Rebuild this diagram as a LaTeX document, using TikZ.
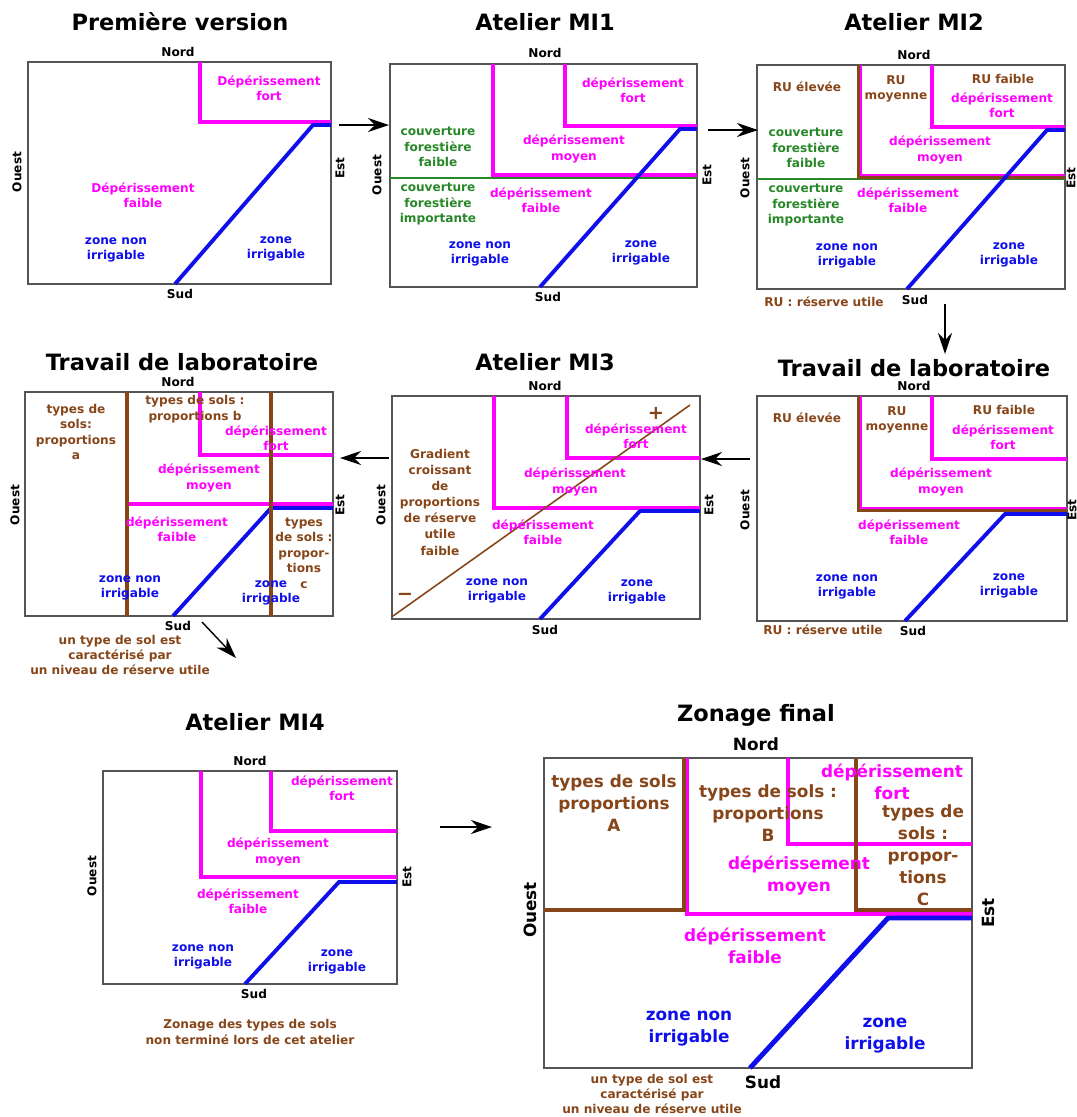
\documentclass[tikz,border=0pt]{standalone}
\usepackage{fontspec}
\setmainfont{DejaVu Sans}
\usetikzlibrary{arrows.meta}
\definecolor{depmag}{RGB}{255,0,255}
\definecolor{zonebleu}{RGB}{15,15,235}
\definecolor{foretvert}{RGB}{40,135,40}
\definecolor{solbrun}{RGB}{135,70,25}
\definecolor{gris}{RGB}{85,85,85}
\begin{document}
\begin{tikzpicture}[x=0.02cm, y=-0.02cm,
	cadre/.style={draw=gris, line width=1.1pt},
	lbl/.style={font=\fontsize{6.9}{8.8}\selectfont\bfseries, align=center, inner sep=0pt},
	grand/.style={font=\fontsize{9.6}{12.5}\selectfont\bfseries, align=center, inner sep=0pt},
	titre/.style={font=\fontsize{12.8}{15}\selectfont\bfseries, inner sep=0pt},
	lmag/.style={text=depmag}, lbleu/.style={text=zonebleu},
	lvert/.style={text=foretvert}, lbrun/.style={text=solbrun},
	trmag/.style={draw=depmag, line width=2.2pt},
	trbleu/.style={draw=zonebleu, line width=2.2pt},
	trvert/.style={draw=foretvert, line width=1.6pt},
	trbrun/.style={draw=solbrun, line width=2.2pt},
	fleche/.style={-{Stealth[length=0.42cm, width=0.28cm, inset=0.14cm]}, line width=0.8pt}]
	\path[use as bounding box, fill=white] (0,0) rectangle (1077,1117);
	%Premiere version
	\node[titre] (t1) at (180,22) {Première version};
	\draw[cadre] (28,62) rectangle (331,284);
	\node[lbl] (n1) at (178,52) {Nord};
	\node[lbl] (s1) at (180,294) {Sud};
	\node[lbl, rotate=90] (o1) at (17,172) {Ouest};
	\node[lbl, rotate=90] (e1) at (340,168) {Est};
	\draw[trmag] (200,62) -- (200,122) -- (331,122);
	\draw[trbleu] (175,284) -- (313,125) -- (331,125);
	\node[lbl, lmag] (d1a) at (269,88) {Dépérissement\\fort};
	\node[lbl, lmag] (d1b) at (143,195) {Dépérissement\\faible};
	\node[lbl, lbleu] (z1a) at (116,250) {zone non\\irrigable};
	\node[lbl, lbleu] (z1b) at (276,249) {zone\\irrigable};
	%Atelier MI1
	\node[titre] (t2) at (545,22) {Atelier MI1};
	\draw[cadre] (390,64) rectangle (697,287);
	\node[lbl] (n2) at (545,53) {Nord};
	\node[lbl] (s2) at (548,297) {Sud};
	\node[lbl, rotate=90] (o2) at (377,175) {Ouest};
	\node[lbl, rotate=90] (e2) at (707,175) {Est};
	\draw[trmag] (493,64) -- (493,175) -- (697,175);
	\draw[trmag] (565,64) -- (565,126) -- (697,126);
	\draw[trvert] (390,178) -- (697,178);
	\draw[trbleu] (540,287) -- (680,129) -- (697,129);
	\node[lbl, lvert] (c2a) at (438,147) {couverture\\forestière\\faible};
	\node[lbl, lvert] (c2b) at (438,204) {couverture\\forestière\\importante};
	\node[lbl, lmag] (d2a) at (633,90) {dépérissement\\fort};
	\node[lbl, lmag] (d2b) at (574,149) {dépérissement\\moyen};
	\node[lbl, lmag] (d2c) at (541,200) {dépérissement\\faible};
	\node[lbl, lbleu] (z2a) at (480,254) {zone non\\irrigable};
	\node[lbl, lbleu] (z2b) at (641,253) {zone\\irrigable};
	%Atelier MI2
	\node[titre] (t3) at (914,22) {Atelier MI2};
	\draw[cadre] (757,65) rectangle (1065,289);
	\node[lbl] (n3) at (914,55) {Nord};
	\node[lbl] (s3) at (915,300) {Sud};
	\node[lbl, rotate=90] (o3) at (745,178) {Ouest};
	\node[lbl, rotate=90] (e3) at (1071,178) {Est};
	\draw[trvert] (757,179) -- (1065,179);
	\draw[trbrun] (859,65) -- (859,177) -- (1065,177);
	\draw[draw=depmag, line width=1.4pt] (861,65) -- (861,175) -- (1065,175);
	\draw[trmag] (932,65) -- (932,127) -- (1065,127);
	\draw[trbleu] (907,289) -- (1047,130) -- (1065,130);
	\node[lbl, lbrun] (r3a) at (807,87) {RU élevée};
	\node[lbl, lbrun] (r3b) at (896,89) {RU\\moyenne};
	\node[lbl, lbrun] (r3c) at (1003,79) {RU faible};
	\node[lbl, lmag] (d3a) at (1002,105) {dépérissement\\fort};
	\node[lbl, lvert] (c3a) at (806,148) {couverture\\forestière\\faible};
	\node[lbl, lvert] (c3b) at (806,205) {couverture\\forestière\\importante};
	\node[lbl, lmag] (d3b) at (940,150) {dépérissement\\moyen};
	\node[lbl, lmag] (d3c) at (908,200) {dépérissement\\faible};
	\node[lbl, lbleu] (z3a) at (847,256) {zone non\\irrigable};
	\node[lbl, lbleu] (z3b) at (1009,255) {zone\\irrigable};
	\node[lbl, lbrun] (ru3) at (824,302) {RU : réserve utile};
	%Travail de laboratoire (droite)
	\node[titre] (t6) at (914,368) {Travail de laboratoire};
	\draw[cadre] (757,396) rectangle (1067,621);
	\node[lbl] (n6) at (914,386) {Nord};
	\node[lbl] (s6) at (913,631) {Sud};
	\node[lbl, rotate=90] (o6) at (745,510) {Ouest};
	\node[lbl, rotate=90] (e6) at (1072,510) {Est};
	\draw[trbrun] (859,396) -- (859,510) -- (1067,510);
	\draw[draw=depmag, line width=1.4pt] (861,396) -- (861,508) -- (1067,508);
	\draw[trmag] (932,396) -- (932,459) -- (1067,459);
	\draw[trbleu] (905,621) -- (1005,514) -- (1067,514);
	\node[lbl, lbrun] (r6a) at (807,418) {RU élevée};
	\node[lbl, lbrun] (r6b) at (897,420) {RU\\moyenne};
	\node[lbl, lbrun] (r6c) at (1004,410) {RU faible};
	\node[lbl, lmag] (d6a) at (1003,437) {dépérissement\\fort};
	\node[lbl, lmag] (d6b) at (941,482) {dépérissement\\moyen};
	\node[lbl, lmag] (d6c) at (909,532) {dépérissement\\faible};
	\node[lbl, lbleu] (z6a) at (847,587) {zone non\\irrigable};
	\node[lbl, lbleu] (z6b) at (1009,586) {zone\\irrigable};
	\node[lbl, lbrun] (ru6) at (823,630) {RU : réserve utile};
	%Atelier MI3
	\node[titre] (t5) at (545,362) {Atelier MI3};
	\draw[cadre] (392,396) rectangle (700,619);
	\node[lbl] (n5) at (545,386) {Nord};
	\node[lbl] (s5) at (545,630) {Sud};
	\node[lbl, rotate=90] (o5) at (381,505) {Ouest};
	\node[lbl, rotate=90] (e5) at (709,505) {Est};
	\draw[trmag] (494,396) -- (494,508) -- (700,508);
	\draw[trmag] (567,396) -- (567,458) -- (700,458);
	\draw[trbleu] (540,619) -- (640,511) -- (700,511);
	\draw[solbrun, line width=0.9pt] (393,616) -- (690,405);
	\node[lbl, lbrun, font=\fontsize{11}{11}\selectfont\bfseries] (plus5) at (656,413) {+};
	\node[lbl, lbrun, font=\fontsize{11}{11}\selectfont\bfseries] (moins5) at (405,597) {−};
	\node[lbl, lbrun, font=\fontsize{6.9}{9.2}\selectfont\bfseries] (g5) at (440,502) {Gradient\\croissant\\de\\proportions\\de réserve\\utile\\faible};
	\node[lbl, lmag] (d5a) at (636,436) {dépérissement\\fort};
	\node[lbl, lmag] (d5b) at (575,482) {dépérissement\\moyen};
	\node[lbl, lmag] (d5c) at (543,532) {dépérissement\\faible};
	\node[lbl, lbleu] (z5a) at (497,591) {zone non\\irrigable};
	\node[lbl, lbleu] (z5b) at (637,592) {zone\\irrigable};
	%Travail de laboratoire (gauche)
	\node[titre] (t4) at (182,362) {Travail de laboratoire};
	\draw[cadre] (25,392) rectangle (333,616);
	\node[lbl] (n4) at (178,382) {Nord};
	\node[lbl] (s4) at (178,626) {Sud};
	\node[lbl, rotate=90] (o4) at (15,505) {Ouest};
	\node[lbl, rotate=90] (e4) at (340,505) {Est};
	\draw[trmag] (200,392) -- (200,455) -- (333,455);
	\draw[trmag] (127,504) -- (333,504);
	\draw[trbleu] (173,616) -- (271,508) -- (333,508);
	\draw[trbrun] (127,392) -- (127,616);
	\draw[trbrun] (271,392) -- (271,616);
	\node[lbl, lbrun] (p4a) at (76,432) {types de\\sols:\\proportions\\a};
	\node[lbl, lbrun] (p4b) at (195,409) {types de sols :\\proportions b};
	\node[lbl, lmag] (d4a) at (276,438) {dépérissement\\fort};
	\node[lbl, lmag] (d4b) at (209,478) {dépérissement\\moyen};
	\node[lbl, lmag] (d4c) at (177,529) {dépérissement\\faible};
	\node[lbl, lbrun] (p4c) at (304,553) {types\\de sols :\\propor-\\tions\\c};
	\node[lbl, lbleu] (z4a) at (130,588) {zone non\\irrigable};
	\node[lbl, lbleu] (z4b) at (271,593) {zone\\irrigable};
	\node[lbl, lbrun] (u4) at (120,655) {un type de sol est\\caractérisé par\\un niveau de réserve utile};
	%Atelier MI4
	\node[titre] (t7) at (255,722) {Atelier MI4};
	\draw[cadre] (103,771) rectangle (397,984);
	\node[lbl] (n7) at (250,761) {Nord};
	\node[lbl] (s7) at (254,994) {Sud};
	\node[lbl, rotate=90] (o7) at (92,876) {Ouest};
	\node[lbl, rotate=90] (e7) at (407,877) {Est};
	\draw[trmag] (201,771) -- (201,877) -- (397,877);
	\draw[trmag] (271,771) -- (271,831) -- (397,831);
	\draw[trbleu] (245,984) -- (339,882) -- (397,882);
	\node[lbl, lmag] (d7a) at (342,788) {dépérissement\\fort};
	\node[lbl, lmag] (d7b) at (278,852) {dépérissement\\moyen};
	\node[lbl, lmag] (d7c) at (248,901) {dépérissement\\faible};
	\node[lbl, lbleu] (z7a) at (203,957) {zone non\\irrigable};
	\node[lbl, lbleu] (z7b) at (337,962) {zone\\irrigable};
	\node[lbl, lbrun] (u7) at (250,1032) {Zonage des types de sols\\non terminé lors de cet atelier};
	%Zonage final
	\node[titre] (t8) at (756,715) {Zonage final};
	\draw[cadre] (544,758) rectangle (972,1068);
	\node[grand] (n8) at (756,744) {Nord};
	\node[grand] (s8) at (763,1082) {Sud};
	\node[grand, rotate=90] (o8) at (530,910) {Ouest};
	\node[grand, rotate=90] (e8) at (988,913) {Est};
	\draw[trmag, line width=2.6pt] (687,758) -- (687,914) -- (972,914);
	\draw[trmag, line width=2.6pt] (788,758) -- (788,844) -- (972,844);
	\draw[trbrun, line width=2.8pt] (544,910) -- (684,910) -- (684,758);
	\draw[trbrun, line width=2.8pt] (856,758) -- (856,910) -- (972,910);
	\draw[trbleu, line width=2.8pt] (750,1068) -- (888,918) -- (972,918);
	\node[grand, lbrun] (p8a) at (614,803) {types de sols\\proportions\\A};
	\node[grand, lbrun] (p8b) at (768,813) {types de sols :\\proportions\\B};
	\node[grand, lmag] (d8a) at (892,782) {dépérissement\\fort};
	\node[grand, lbrun] (p8c) at (923,855) {types de\\sols :\\propor-\\tions\\C};
	\node[grand, lmag] (d8b) at (799,876) {dépérissement\\moyen};
	\node[grand, lmag] (d8c) at (755,946) {dépérissement\\faible};
	\node[grand, lbleu] (z8a) at (689,1029) {zone non\\irrigable};
	\node[grand, lbleu] (z8b) at (885,1036) {zone\\irrigable};
	\node[lbl, lbrun] (u8) at (652,1094) {un type de sol est\\caractérisé par\\un niveau de réserve utile};
	%arrows between the steps
	\coordinate (a1) at (339,125); \coordinate (b1) at (389,125);
	\coordinate (a2) at (708,130); \coordinate (b2) at (758,130);
	\coordinate (a3) at (945,304); \coordinate (b3) at (945,354);
	\coordinate (a4) at (750,459); \coordinate (b4) at (701,459);
	\coordinate (a5) at (389,458); \coordinate (b5) at (340,458);
	\coordinate (a6) at (202,622); \coordinate (b6) at (236,658);
	\coordinate (a7) at (440,827); \coordinate (b7) at (492,827);
	\foreach \i in {1,...,7}
		\draw[fleche] (a\i) -- (b\i);
\end{tikzpicture}
\end{document}
